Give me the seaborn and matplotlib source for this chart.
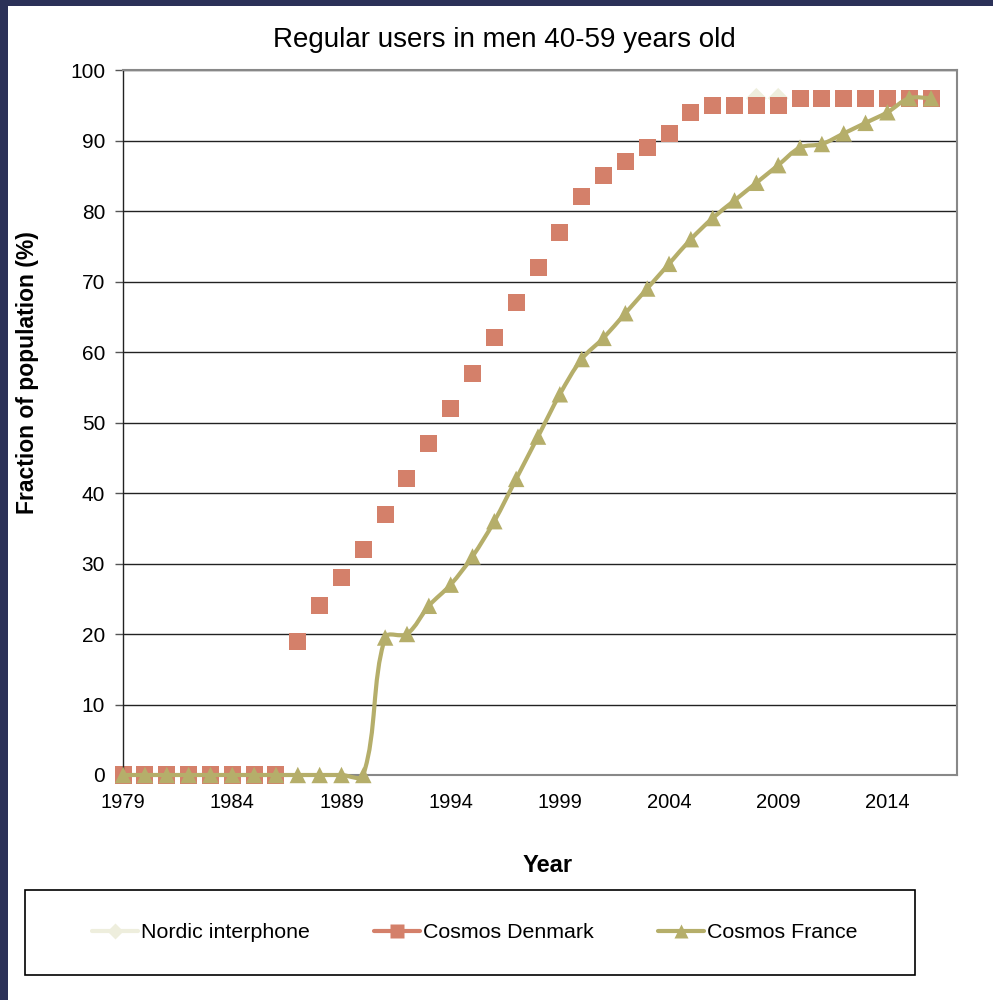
import numpy as np
import pandas as pd
import matplotlib
matplotlib.use("Agg")
import matplotlib.pyplot as plt
from matplotlib.path import Path
from matplotlib.patches import PathPatch, Rectangle
from matplotlib.lines import Line2D
import seaborn as sns

# ---- data -------------------------------------------------------------
years = list(range(1979, 2017))

denmark = [0, 0, 0, 0, 0, 0, 0, 0,           # 1979-1986
           19, 24, 28, 32, 37, 42, 47, 52,   # 1987-1994
           57, 62, 67, 72, 77, 82, 85, 87,   # 1995-2002
           89, 91, 94, 95, 95, 95, 95, 96,   # 2003-2010
           96, 96, 96, 96, 96, 96]           # 2011-2016

france = [0, 0, 0, 0, 0, 0, 0, 0, 0, 0, 0, 0,   # 1979-1990
          19.5, 20, 24, 27, 31, 36, 42, 48,     # 1991-1998
          54, 59, 62, 65.5, 69, 72.5, 76, 79,   # 1999-2006
          81.5, 84, 86.5, 89, 89.5, 91, 92.5,   # 2007-2013
          94, 96, 96]                           # 2014-2016

nordic_years = [2008, 2009]
nordic = [96, 96]

xtick_years = [1979, 1984, 1989, 1994, 1999, 2004, 2009, 2014]
yticks = list(range(0, 101, 10))

c_nordic = "#EEEEDD"
c_denmark = "#D4806A"
c_france = "#B5AE6A"

df_dk = pd.DataFrame({"year": years, "value": denmark})
df_fr = pd.DataFrame({"year": years, "value": france})
df_no = pd.DataFrame({"year": nordic_years, "value": nordic})

# ---- figure -----------------------------------------------------------
sns.set_theme(style="white")
plt.rcParams["font.family"] = ["Liberation Sans", "DejaVu Sans"]
plt.rcParams["text.color"] = "black"

fig = plt.figure(figsize=(9.93, 10.0), dpi=100)
ax = fig.add_axes([0.124, 0.225, 0.840, 0.705])
ax.set_xlim(1979, 2017.2)
ax.set_ylim(0, 100)

# dark frame strips on the left and top of the canvas
fig.patches.append(Rectangle((0, 0), 0.008, 1, transform=fig.transFigure,
                             facecolor="#2B3158", edgecolor="none", zorder=0))
fig.patches.append(Rectangle((0, 0.994), 1, 0.006, transform=fig.transFigure,
                             facecolor="#2B3158", edgecolor="none", zorder=0))

# horizontal gridlines
for v in yticks[1:]:
    ax.axhline(v, color="#222222", lw=1.0, zorder=1)

# smoothed line for Cosmos France: cubic Bezier segments whose control
# points follow the neighbour direction, scaled by the segment length
# (computed in screen space so the curve shape is independent of units)
pts_data = np.column_stack([df_fr["year"].to_numpy(float), df_fr["value"].to_numpy(float)])
pts = ax.transData.transform(pts_data)
n = len(pts)

def tangent(i):
    a = pts[i - 1] if i > 0 else pts[i]
    b = pts[i + 1] if i + 1 < n else pts[i]
    d = b - a
    norm = np.hypot(*d)
    return d / norm if norm > 0 else d

verts = [pts[0]]
codes = [Path.MOVETO]
for i in range(n - 1):
    p1, p2 = pts[i], pts[i + 1]
    seg = np.hypot(*(p2 - p1))
    c1 = p1 + tangent(i) * seg / 3.0
    c2 = p2 - tangent(i + 1) * seg / 3.0
    verts += [c1, c2, p2]
    codes += [Path.CURVE4] * 3
verts = ax.transData.inverted().transform(np.array(verts))
ax.add_patch(PathPatch(Path(verts, codes), facecolor="none",
                       edgecolor=c_france, lw=3, zorder=3, capstyle="round",
                       clip_on=False))

sns.scatterplot(data=df_no, x="year", y="value", marker="D", s=110,
                color=c_nordic, edgecolor="none", ax=ax, zorder=2, legend=False,
                clip_on=False)
sns.scatterplot(data=df_dk, x="year", y="value", marker="s", s=150,
                color=c_denmark, edgecolor="none", ax=ax, zorder=2.5, legend=False,
                clip_on=False)
sns.scatterplot(data=df_fr, x="year", y="value", marker="^", s=140,
                color=c_france, edgecolor="none", ax=ax, zorder=4, legend=False,
                clip_on=False)

ax.set_xlim(1979, 2017.2)
ax.set_ylim(0, 100)
ax.set_xticks(xtick_years)
ax.set_xticklabels([str(y) for y in xtick_years])
ax.set_yticks(yticks)
ax.set_xlabel("")
ax.set_ylabel("")
ax.tick_params(axis="x", length=0, labelsize=14.5, pad=13, colors="black")
ax.tick_params(axis="y", length=6, width=1, color="#555555", labelsize=15,
               pad=7, left=True, labelcolor="black")

for side in ["top", "right", "bottom"]:
    ax.spines[side].set_color("#888888")
    ax.spines[side].set_linewidth(1.5)
ax.spines["left"].set_color("#222222")
ax.spines["left"].set_linewidth(1.0)
ax.set_facecolor("white")

fig.text(0.508, 0.960, "Regular users in men 40-59 years old", ha="center",
         va="center", fontsize=20, color="black")
fig.text(0.551, 0.134, "Year", ha="center", va="center", fontsize=17,
         fontweight="bold", color="black")
fig.text(0.028, 0.627, "Fraction of population (%)", ha="center", va="center",
         rotation=90, fontsize=16.5, fontweight="bold", color="black")

# legend below the plot, inside a rectangular frame
fig.patches.append(Rectangle((0.025, 0.025), 0.896, 0.085, transform=fig.transFigure,
                             facecolor="white", edgecolor="black", lw=1.2, zorder=1))
handles = [
    Line2D([], [], color=c_nordic, lw=3, marker="D", markersize=8, markeredgecolor="none"),
    Line2D([], [], color=c_denmark, lw=3, marker="s", markersize=10, markeredgecolor="none"),
    Line2D([], [], color=c_france, lw=3, marker="^", markersize=10, markeredgecolor="none"),
]
labels = ["Nordic interphone", "Cosmos Denmark", "Cosmos France"]
leg = fig.legend(handles, labels, loc="center", bbox_to_anchor=(0.478, 0.0675),
                 ncol=3, frameon=False, fontsize=15.4, handlelength=2.15,
                 handletextpad=0.15, columnspacing=3.0, labelcolor="black")
leg.set_zorder(5)

fig.savefig("out.png", dpi=100, facecolor="white")
